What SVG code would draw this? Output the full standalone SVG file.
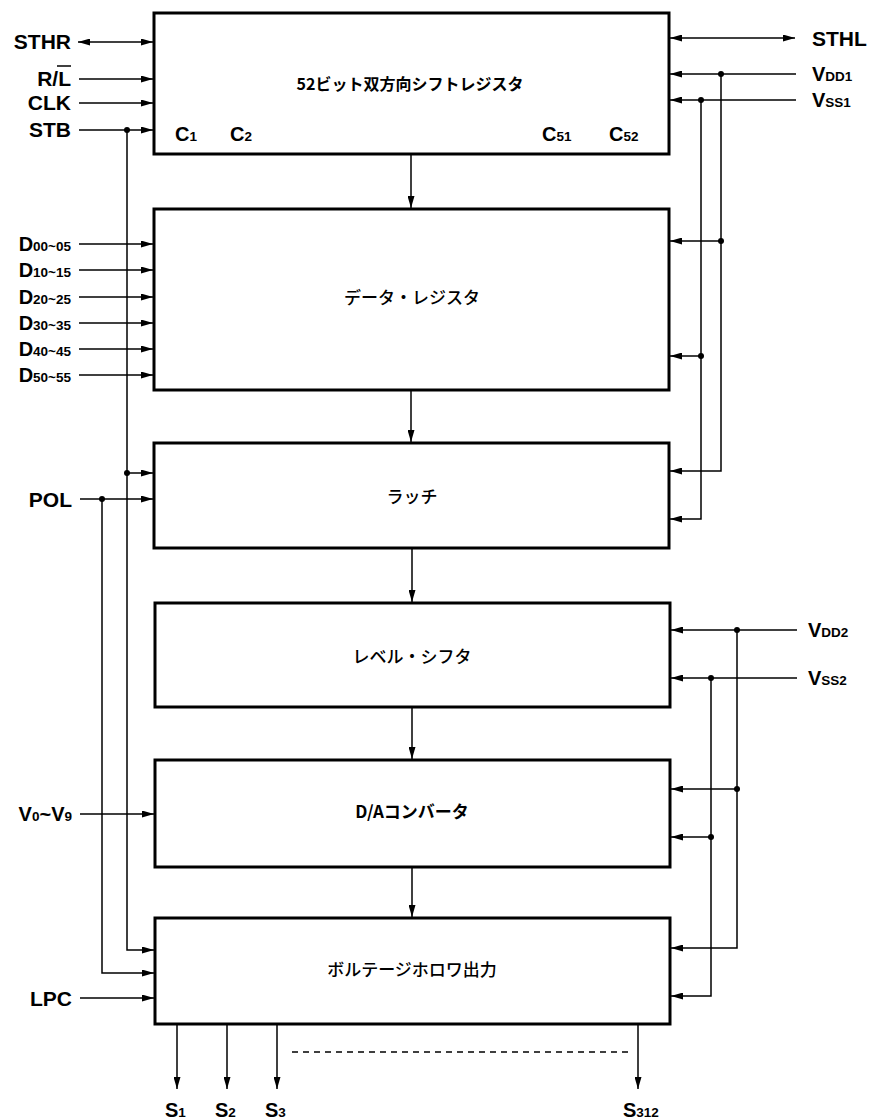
<svg xmlns="http://www.w3.org/2000/svg" width="869" height="1120" viewBox="0 0 869 1120">
<style>
.box{fill:#fff;stroke:#000;stroke-width:3}
.w{fill:none;stroke:#000;stroke-width:1.5}
.a{marker-end:url(#ah)}
.d{marker-start:url(#ah);marker-end:url(#ah)}
.dot{fill:#000}
.lbl{font-family:"Liberation Sans",Arial,sans-serif;font-weight:bold;fill:#000}
.big{font-size:21px}
.m{font-size:20px}
.sub{font-size:13.5px}
.t{font-family:"Noto Sans CJK JP",sans-serif;font-size:17px;font-weight:500;fill:#000;text-anchor:middle}
.tb{font-weight:bold}
</style>
<defs>
<marker id="ah" viewBox="0 0 12 7" refX="12" refY="3.5" markerWidth="12" markerHeight="7" markerUnits="userSpaceOnUse" orient="auto-start-reverse">
<path d="M0,0 L12,3.5 L0,7 z" fill="#000"/>
</marker>
</defs>

<g id="shift-register">
<rect class="box" x="154" y="13" width="515" height="141"/>
<text class="t tb" x="410" y="90" style="font-size:16px">52ビット双方向シフトレジスタ</text>
<text class="lbl" x="175" y="141"><tspan class="m">C</tspan><tspan class="sub">1</tspan></text>
<text class="lbl" x="230" y="141"><tspan class="m">C</tspan><tspan class="sub">2</tspan></text>
<text class="lbl" x="542" y="141"><tspan class="m">C</tspan><tspan class="sub">51</tspan></text>
<text class="lbl" x="609" y="141"><tspan class="m">C</tspan><tspan class="sub">52</tspan></text>
</g>
<g id="data-register">
<rect class="box" x="154" y="209" width="515" height="181"/>
<text class="t" x="412" y="304">データ・レジスタ</text>
</g>
<g id="latch">
<rect class="box" x="154" y="443" width="515" height="105"/>
<text class="t" x="412" y="503">ラッチ</text>
</g>
<g id="level-shifter">
<rect class="box" x="155" y="603" width="515" height="104"/>
<text class="t" x="412" y="663">レベル・シフタ</text>
</g>
<g id="da-converter">
<rect class="box" x="155" y="760" width="515" height="107"/>
<text class="t tb" x="412" y="818">D/Aコンバータ</text>
</g>
<g id="voltage-follower">
<rect class="box" x="155" y="918" width="515" height="106"/>
<text class="t" x="412" y="976">ボルテージホロワ出力</text>
</g>

<g id="labels">
<text class="lbl big" x="71" y="49" text-anchor="end">STHR</text>
<text class="lbl big" x="71" y="86" text-anchor="end">R/L</text>
<line x1="57" y1="66" x2="71" y2="66" stroke="#000" stroke-width="1.5"/>
<text class="lbl big" x="71" y="110" text-anchor="end">CLK</text>
<text class="lbl big" x="71" y="137" text-anchor="end">STB</text>
<text class="lbl" x="71" y="251" text-anchor="end"><tspan class="m">D</tspan><tspan class="sub">00~05</tspan></text>
<text class="lbl" x="71" y="277" text-anchor="end"><tspan class="m">D</tspan><tspan class="sub">10~15</tspan></text>
<text class="lbl" x="71" y="304" text-anchor="end"><tspan class="m">D</tspan><tspan class="sub">20~25</tspan></text>
<text class="lbl" x="71" y="330" text-anchor="end"><tspan class="m">D</tspan><tspan class="sub">30~35</tspan></text>
<text class="lbl" x="71" y="356" text-anchor="end"><tspan class="m">D</tspan><tspan class="sub">40~45</tspan></text>
<text class="lbl" x="71" y="382" text-anchor="end"><tspan class="m">D</tspan><tspan class="sub">50~55</tspan></text>
<text class="lbl big" x="72" y="507" text-anchor="end">POL</text>
<text class="lbl" x="72" y="821" text-anchor="end"><tspan class="m">V</tspan><tspan class="sub">0</tspan><tspan class="m">~V</tspan><tspan class="sub">9</tspan></text>
<text class="lbl big" x="72" y="1006" text-anchor="end">LPC</text>
<text class="lbl big" x="812" y="46">STHL</text>
<text class="lbl" x="812" y="81"><tspan class="m">V</tspan><tspan class="sub">DD1</tspan></text>
<text class="lbl" x="812" y="107"><tspan class="m">V</tspan><tspan class="sub">SS1</tspan></text>
<text class="lbl" x="808" y="637"><tspan class="m">V</tspan><tspan class="sub">DD2</tspan></text>
<text class="lbl" x="808" y="685"><tspan class="m">V</tspan><tspan class="sub">SS2</tspan></text>
<text class="lbl" x="165" y="1117"><tspan class="m">S</tspan><tspan class="sub">1</tspan></text>
<text class="lbl" x="215" y="1117"><tspan class="m">S</tspan><tspan class="sub">2</tspan></text>
<text class="lbl" x="265" y="1117"><tspan class="m">S</tspan><tspan class="sub">3</tspan></text>
<text class="lbl" x="623" y="1117"><tspan class="m">S</tspan><tspan class="sub">312</tspan></text>
</g>

<g id="connectors">
<line class="w d" x1="78" y1="42" x2="153" y2="42"/>
<line class="w a" x1="79" y1="79" x2="153" y2="79"/>
<line class="w a" x1="79" y1="103" x2="153" y2="103"/>
<line class="w a" x1="79" y1="130" x2="153" y2="130"/>
<line class="w a" x1="79" y1="244" x2="153" y2="244"/>
<line class="w a" x1="79" y1="270" x2="153" y2="270"/>
<line class="w a" x1="79" y1="297" x2="153" y2="297"/>
<line class="w a" x1="79" y1="323" x2="153" y2="323"/>
<line class="w a" x1="79" y1="349" x2="153" y2="349"/>
<line class="w a" x1="79" y1="375" x2="153" y2="375"/>
<polyline class="w a" points="127,130 127,950 154,950"/>
<line class="w a" x1="127" y1="473" x2="153" y2="473"/>
<circle class="dot" cx="127" cy="130" r="3"/>
<circle class="dot" cx="127" cy="473" r="3"/>
<line class="w a" x1="80" y1="499" x2="153" y2="499"/>
<polyline class="w a" points="102,499 102,973 154,973"/>
<circle class="dot" cx="102" cy="499" r="3"/>
<line class="w a" x1="80" y1="814" x2="154" y2="814"/>
<line class="w a" x1="80" y1="998" x2="154" y2="998"/>
<line class="w a" x1="411" y1="155" x2="411" y2="208"/>
<line class="w a" x1="411" y1="391" x2="411" y2="442"/>
<line class="w a" x1="412" y1="549" x2="412" y2="602"/>
<line class="w a" x1="412" y1="708" x2="412" y2="759"/>
<line class="w a" x1="412" y1="868" x2="412" y2="917"/>
<line class="w d" x1="670" y1="38" x2="795" y2="38"/>
<line class="w a" x1="796" y1="74" x2="670" y2="74"/>
<polyline class="w a" points="721,74 721,471 670,471"/>
<line class="w a" x1="721" y1="241" x2="670" y2="241"/>
<circle class="dot" cx="721" cy="74" r="3"/>
<circle class="dot" cx="721" cy="241" r="3"/>
<line class="w a" x1="796" y1="100" x2="670" y2="100"/>
<polyline class="w a" points="701,100 701,519 670,519"/>
<line class="w a" x1="701" y1="356" x2="670" y2="356"/>
<circle class="dot" cx="701" cy="100" r="3"/>
<circle class="dot" cx="701" cy="356" r="3"/>
<line class="w a" x1="797" y1="630" x2="671" y2="630"/>
<polyline class="w a" points="737,630 737,948 671,948"/>
<line class="w a" x1="737" y1="789" x2="671" y2="789"/>
<circle class="dot" cx="737" cy="630" r="3"/>
<circle class="dot" cx="737" cy="789" r="3"/>
<line class="w a" x1="797" y1="678" x2="671" y2="678"/>
<polyline class="w a" points="711,678 711,996 671,996"/>
<line class="w a" x1="711" y1="837" x2="671" y2="837"/>
<circle class="dot" cx="711" cy="678" r="3"/>
<circle class="dot" cx="711" cy="837" r="3"/>
<line class="w a" x1="177" y1="1025" x2="177" y2="1089"/>
<line class="w a" x1="227" y1="1025" x2="227" y2="1089"/>
<line class="w a" x1="277" y1="1025" x2="277" y2="1089"/>
<line class="w a" x1="638" y1="1025" x2="638" y2="1089"/>
<line x1="292" y1="1052" x2="628" y2="1052" stroke="#000" stroke-width="1.3" stroke-dasharray="6,5"/>
</g>
</svg>
